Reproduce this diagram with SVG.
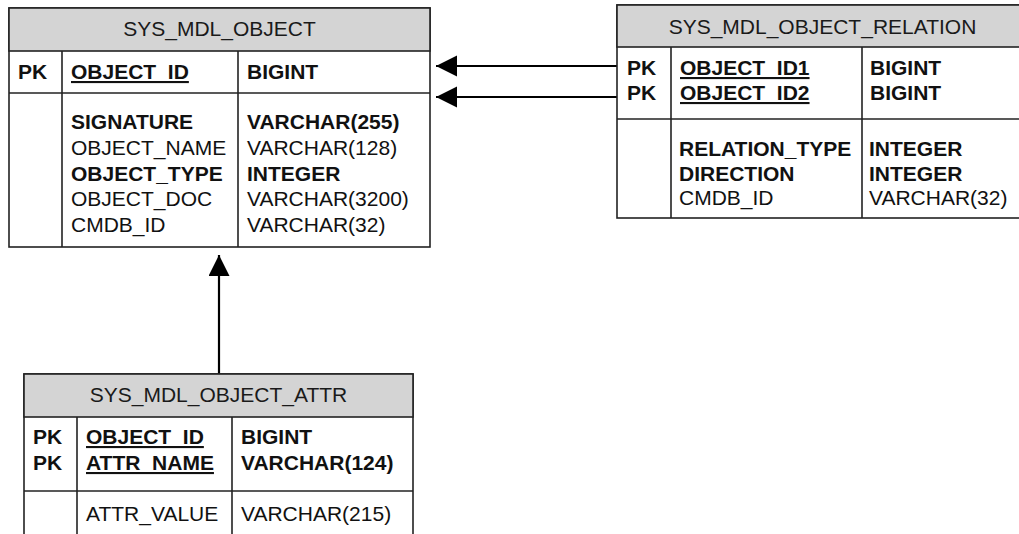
<svg xmlns="http://www.w3.org/2000/svg" width="1019" height="534" viewBox="0 0 1019 534">
<style>
.box{fill:#fff;stroke:#222;stroke-width:1.6}
.hdr{fill:#d4d4d4;stroke:#222;stroke-width:1.6}
.ln{stroke:#222;stroke-width:1.6;fill:none}
text{font-family:"Liberation Sans",Arial,sans-serif;font-size:21px;fill:#111}
.t{text-anchor:middle;fill:#1a1a1a}
.b{font-weight:bold}
.u{text-decoration:underline}
.conn{stroke:#000;stroke-width:2.2;fill:none}
</style>
<defs>
<marker id="ah" markerUnits="userSpaceOnUse" markerWidth="22" markerHeight="22" refX="21" refY="10.5" orient="auto">
<path d="M0,0 L21,10.5 L0,21 z" fill="#000"/>
</marker>
</defs>
<g id="connectors">
<line class="conn" x1="617" y1="66" x2="436" y2="66" marker-end="url(#ah)"/>
<line class="conn" x1="617" y1="97" x2="436" y2="97" marker-end="url(#ah)"/>
<line class="conn" x1="219" y1="374" x2="219" y2="255" marker-end="url(#ah)"/>
</g>
<g id="sys_mdl_object">
<rect class="box" x="9" y="8" width="421" height="239"/>
<rect class="hdr" x="9" y="8" width="421" height="43"/>
<line class="ln" x1="9" y1="93" x2="430" y2="93"/>
<line class="ln" x1="62" y1="51" x2="62" y2="247"/>
<line class="ln" x1="238" y1="51" x2="238" y2="247"/>
<text class="t" x="219.5" y="36">SYS_MDL_OBJECT</text>
<text class="b" x="18" y="79">PK</text>
<text class="b u" x="71" y="79">OBJECT_ID</text>
<text class="b" x="247" y="79">BIGINT</text>
<text class="b" x="71" y="129">SIGNATURE</text>
<text x="71" y="155">OBJECT_NAME</text>
<text class="b" x="71" y="180.5">OBJECT_TYPE</text>
<text x="71" y="206">OBJECT_DOC</text>
<text x="71" y="231.5">CMDB_ID</text>
<text class="b" x="247" y="129">VARCHAR(255)</text>
<text x="247" y="155">VARCHAR(128)</text>
<text class="b" x="247" y="180.5">INTEGER</text>
<text x="247" y="206">VARCHAR(3200)</text>
<text x="247" y="231.5">VARCHAR(32)</text>
</g>
<g id="sys_mdl_object_relation">
<rect class="box" x="617" y="5" width="414" height="213"/>
<rect class="hdr" x="617" y="5" width="414" height="42"/>
<line class="ln" x1="617" y1="119" x2="1031" y2="119"/>
<line class="ln" x1="671" y1="47" x2="671" y2="218"/>
<line class="ln" x1="862" y1="47" x2="862" y2="218"/>
<text class="t" x="822.5" y="34">SYS_MDL_OBJECT_RELATION</text>
<text class="b" x="627" y="75">PK</text>
<text class="b" x="627" y="100">PK</text>
<text class="b u" x="680" y="75">OBJECT_ID1</text>
<text class="b u" x="680" y="100">OBJECT_ID2</text>
<text class="b" x="870" y="75">BIGINT</text>
<text class="b" x="870" y="100">BIGINT</text>
<text class="b" x="679" y="156">RELATION_TYPE</text>
<text class="b" x="679" y="180.5">DIRECTION</text>
<text x="679" y="205">CMDB_ID</text>
<text class="b" x="869" y="156">INTEGER</text>
<text class="b" x="869" y="180.5">INTEGER</text>
<text x="869" y="205">VARCHAR(32)</text>
</g>
<g id="sys_mdl_object_attr">
<rect class="box" x="24" y="374" width="389" height="190"/>
<rect class="hdr" x="24" y="374" width="389" height="43"/>
<line class="ln" x1="24" y1="491" x2="413" y2="491"/>
<line class="ln" x1="77" y1="417" x2="77" y2="564"/>
<line class="ln" x1="232" y1="417" x2="232" y2="564"/>
<text class="t" x="218.5" y="402">SYS_MDL_OBJECT_ATTR</text>
<text class="b" x="33" y="444">PK</text>
<text class="b" x="33" y="470">PK</text>
<text class="b u" x="86" y="444">OBJECT_ID</text>
<text class="b u" x="86" y="470">ATTR_NAME</text>
<text class="b" x="241" y="444">BIGINT</text>
<text class="b" x="241" y="470">VARCHAR(124)</text>
<text x="86" y="520.5">ATTR_VALUE</text>
<text x="241" y="520.5">VARCHAR(215)</text>
</g>
</svg>
